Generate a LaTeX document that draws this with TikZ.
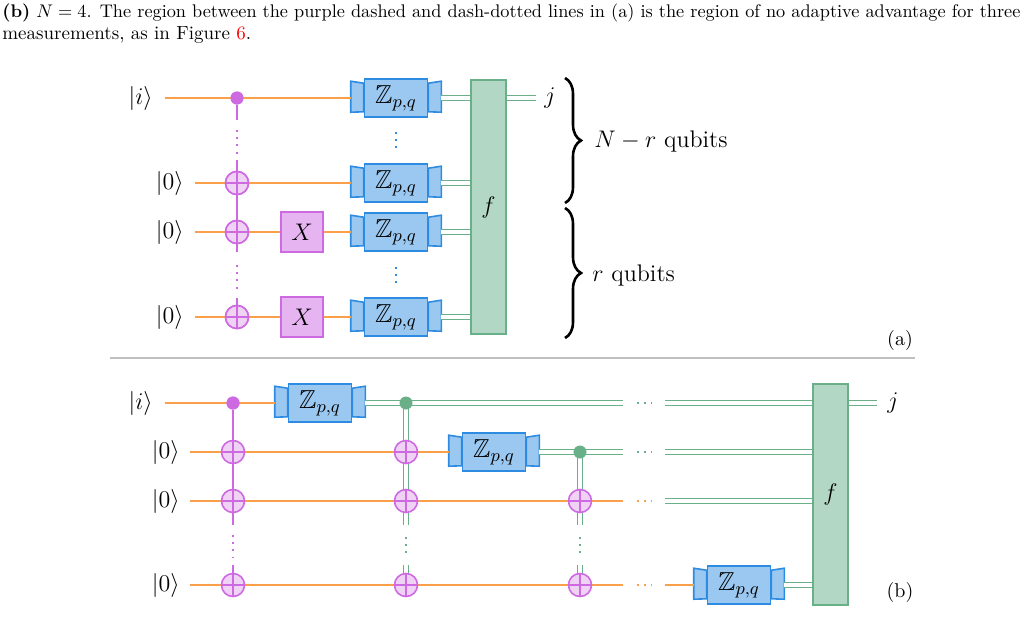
\documentclass[tikz,border=0pt]{standalone}
\usepackage{amssymb}
\usetikzlibrary{calc,decorations.pathreplacing}
\definecolor{qorange}{RGB}{250,160,75}
\definecolor{qpurple}{RGB}{205,105,225}
\definecolor{qpurpfill}{RGB}{230,180,240}
\definecolor{qpurplite}{RGB}{240,210,245}
\definecolor{qblue}{RGB}{45,140,225}
\definecolor{qbluefill}{RGB}{155,200,240}
\definecolor{qgreen}{RGB}{105,175,135}
\definecolor{qgreenfill}{RGB}{178,215,196}
\tikzset{
  qw/.style={qorange,line width=0.8pt},
  cw/.style={qgreen,line width=0.75pt,double=white,double distance=1.6pt},
  ctl/.style={qpurple,line width=0.8pt},
  cdot/.style={circle,fill=#1,inner sep=0pt,minimum size=6.5pt},
  oplus/.style={circle,draw=qpurple,fill=qpurplite,line width=0.8pt,inner sep=0pt,minimum size=11.5pt,
    path picture={\draw[qpurple,line width=0.6pt] (path picture bounding box.north)--(path picture bounding box.south)
      (path picture bounding box.west)--(path picture bounding box.east);}},
  xgate/.style={draw=qpurple,fill=qpurpfill,line width=0.8pt,minimum width=21pt,minimum height=20pt,inner sep=0pt,font=\fontsize{13}{15}\selectfont},
  zbody/.style={draw=qblue,fill=qbluefill,line width=0.8pt,minimum width=31.5pt,minimum height=19pt,inner sep=0pt,font=\fontsize{13}{15}\selectfont},
  zflap/.style={draw=qblue,fill=qbluefill,line width=0.8pt},
  fbox/.style={draw=qgreen,fill=qgreenfill,line width=0.8pt,inner sep=0pt,font=\fontsize{13}{15}\selectfont},
  lab/.style={font=\fontsize{13}{15}\selectfont,inner sep=0pt},
  vd/.style={#1,line width=1pt,dash pattern=on 1pt off 2.6pt},
}
\newcommand\Zgate[2]{%
  \node[zbody] (#1) at (#2) {$\mathbb{Z}_{p,q}$};
  \draw[zflap] ($(#1.north west)+(0,5)$) -- ++(-13,-2) -- ++(0,31) -- ($(#1.south west)+(0,-6)$) -- cycle;
  \draw[zflap] ($(#1.north east)+(0,5)$) -- ++(13,-2) -- ++(0,31) -- ($(#1.south east)+(0,-6)$) -- cycle;
  \coordinate (#1-in) at ($(#1.west)+(-13,0)$);
  \coordinate (#1-out) at ($(#1.east)+(13,0)$);
}
\begin{document}
\begin{tikzpicture}[x=0.5pt,y=-0.5pt]
\useasboundingbox (0,0) rectangle (1027,643);
% caption
\node[anchor=base west,inner sep=0pt] (cap1) at (2,17)
  {\resizebox{509pt}{!}{\textbf{(b)} $N=4$. The region between the purple dashed and dash-dotted lines in (a) is the region of no adaptive advantage for three}};
\node[anchor=base west,inner sep=0pt,font=\fontsize{9.5}{11}\selectfont] (cap2) at (2,39)
  {measurements, as in Figure \textcolor{red}{6}.};

% ================= (a)
\node[lab,anchor=east] (ai) at (153,98) {$|i\rangle$};
\node[lab,anchor=east] (a1) at (184,183) {$|0\rangle$};
\node[lab,anchor=east] (a2) at (184,232) {$|0\rangle$};
\node[lab,anchor=east] (a3) at (184,317) {$|0\rangle$};
\coordinate (ai0) at (165,98);
\coordinate (a10) at (195,183);
\coordinate (a20) at (195,232);
\coordinate (a30) at (195,317);
\node[cdot=qpurple] (ac) at (237,98) {};
\node[oplus] (ao1) at (237,183) {};
\node[oplus] (ao2) at (237,232) {};
\node[oplus] (ao3) at (237,317) {};
\node[xgate] (ax2) at (302,232) {$X$};
\node[xgate] (ax3) at (302,317) {$X$};
\Zgate{az0}{396,98}
\Zgate{az1}{396,183}
\Zgate{az2}{396,232}
\Zgate{az3}{396,317}
\node[fbox,minimum width=17.5pt,minimum height=127pt] (af) at (488.5,207) {$f$};
\coordinate (aj) at (536,98);
\node[lab,anchor=west] (ajl) at (544,98) {$j$};
% quantum wires
\draw[qw] (ai0) -- (az0-in);
\draw[qw] (a10) -- (az1-in);
\draw[qw] (a20) -- (ax2) -- (az2-in);
\draw[qw] (a30) -- (ax3) -- (az3-in);
% control line
\coordinate (av1) at (237,120); \coordinate (av2) at (237,160);
\coordinate (av3) at (237,252); \coordinate (av4) at (237,298);
\draw[ctl] (ac) -- (av1);
\draw[ctl] (av2) -- (ao1) -- (ao2) -- (av3);
\draw[ctl] (av4) -- (ao3);
\draw[vd=qpurple] (237,130) -- (237,157);
\draw[vd=qpurple] (237,265) -- (237,292);
\draw[vd=qblue] (396,132) -- (396,153);
\draw[vd=qblue] (396,267) -- (396,288);
\node[cdot=qpurple] at (237,98) {};
\node[oplus] at (237,183) {}; \node[oplus] at (237,232) {}; \node[oplus] at (237,317) {};
% classical
\draw[cw] (az0-out) -- (az0-out -| af.west);
\draw[cw] (az1-out) -- (az1-out -| af.west);
\draw[cw] (az2-out) -- (az2-out -| af.west);
\draw[cw] (az3-out) -- (az3-out -| af.west);
\draw[cw] (aj -| af.east) -- (aj);
% braces
\draw[decorate,decoration={brace,amplitude=8pt},line width=1.3pt] (565,78) -- (565,203);
\draw[decorate,decoration={brace,amplitude=8pt},line width=1.3pt] (565,208) -- (565,338);
\node[lab,anchor=west,font=\fontsize{12}{14}\selectfont] (nr) at (594,141) {$N-r$ qubits};
\node[lab,anchor=west,font=\fontsize{12}{14}\selectfont] (rq) at (592,275) {$r$ qubits};
\node[lab,anchor=center,font=\fontsize{10}{12}\selectfont] (la) at (900,340) {(a)};

% separator
\draw[black!25,line width=0.6pt] (110,358) -- (915,358);

% ================= (b)
\node[lab,anchor=east] (bi) at (153,403) {$|i\rangle$};
\node[lab,anchor=east] (b1) at (180,452) {$|0\rangle$};
\node[lab,anchor=east] (b2) at (180,501) {$|0\rangle$};
\node[lab,anchor=east] (b3) at (180,585) {$|0\rangle$};
\coordinate (bi0) at (165,403);
\coordinate (b10) at (190,452);
\coordinate (b20) at (190,501);
\coordinate (b30) at (190,585);
\Zgate{bz0}{320,403}
\Zgate{bz1}{494,452}
\Zgate{bz3}{739,585}
\node[fbox,minimum width=17.5pt,minimum height=110.5pt] (bf) at (830.5,494.5) {$f$};
% wires
\draw[qw] (bi0) -- (bz0-in);
\draw[qw] (b10) -- (bz1-in);
\coordinate (b2e) at (623,501); \coordinate (b2s) at (665,501);
\draw[qw] (b20) -- (b2e);
\coordinate (b3e) at (623,585); \coordinate (b3s) at (665,585);
\draw[qw] (b30) -- (b3e);
\draw[qw] (b3s) -- (bz3-in);
\coordinate (b0e) at (623,403); \coordinate (b0s) at (665,403);
\coordinate (b1e) at (623,452); \coordinate (b1s) at (665,452);
\draw[cw] (bz0-out) -- (b0e);
\draw[cw] (b0s) -- (b0s -| bf.west);
\draw[cw] (bz1-out) -- (b1e);
\draw[cw] (b1s) -- (b1s -| bf.west);
\draw[cw] (b2s) -- (b2s -| bf.west);
\draw[cw] (bz3-out) -- (bz3-out -| bf.west);
\coordinate (bj) at (877,403);
\draw[cw] (bj -| bf.east) -- (bj);
\node[lab,anchor=west] (bjl) at (887,403) {$j$};
\node[lab,anchor=center,font=\fontsize{10}{12}\selectfont] (lb) at (900,592) {(b)};
% horizontal dots
\draw[vd=qgreen] (637,403) -- (652,403);
\draw[vd=qgreen] (637,452) -- (652,452);
\draw[vd=qorange] (637,501) -- (652,501);
\draw[vd=qorange] (637,585) -- (652,585);
% first control column
\node[cdot=qpurple] (bc) at (233,403) {};
\coordinate (bv1) at (233,525); \coordinate (bv2) at (233,565);
\draw[ctl] (bc) -- (bv1);
\draw[ctl] (bv2) -- (233,585);
\draw[vd=qpurple] (233,535) -- (233,557);
\node[cdot=qpurple] at (233,403) {};
\node[oplus] (bo11) at (233,452) {};
\node[oplus] (bo12) at (233,501) {};
\node[oplus] (bo13) at (233,585) {};
% second column (classical control)
\coordinate (bv5) at (406,525); \coordinate (bv6) at (406,565);
\draw[cw] (406,403) -- (bv5);
\draw[cw] (bv6) -- (406,585);
\draw[vd=qgreen] (406,537) -- (406,557);
\node[cdot=qgreen] (bc2) at (406,403) {};
\node[oplus] (bo21) at (406,452) {};
\node[oplus] (bo22) at (406,501) {};
\node[oplus] (bo23) at (406,585) {};
% third column
\coordinate (bv7) at (580,525); \coordinate (bv8) at (580,565);
\draw[cw] (580,452) -- (bv7);
\draw[cw] (bv8) -- (580,585);
\draw[vd=qgreen] (580,537) -- (580,557);
\node[cdot=qgreen] (bc3) at (580,452) {};
\node[oplus] (bo32) at (580,501) {};
\node[oplus] (bo33) at (580,585) {};
\end{tikzpicture}
\end{document}
